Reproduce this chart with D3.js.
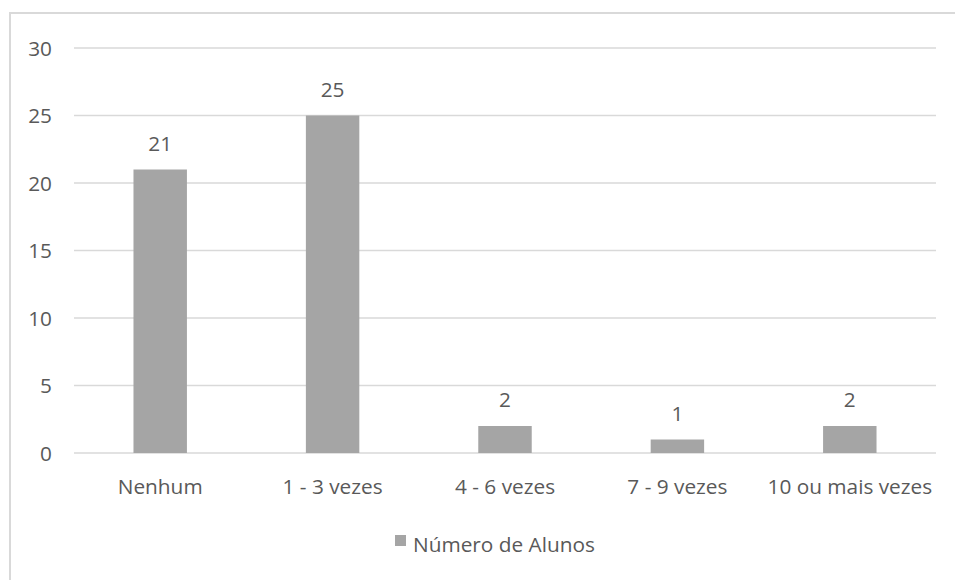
<!DOCTYPE html>
<html><head><meta charset="utf-8">
<script src="https://cdn.jsdelivr.net/npm/d3@7"></script>
<style>
body{margin:0;background:#fff;}
text{font-family:"Open Sans",sans-serif;fill:#595959;}
</style></head>
<body><svg id="c" width="955" height="580"></svg>
<script>
const categories = ["Nenhum","1 - 3 vezes","4 - 6 vezes","7 - 9 vezes","10 ou mais vezes"];
const values = [21,25,2,1,2];
const yTicks = [0,5,10,15,20,25,30];
const seriesName = "Número de Alunos";

const svg = d3.select("#c");
const mLeft = 74, mRight = 936, mTop = 48, mBottom = 453;
const fs = 20.8;

// outer border
svg.append("path").attr("d","M10,600 L10,13 L960,13")
  .attr("fill","none").attr("stroke","#d9d9d9").attr("stroke-width",2);

const y = d3.scaleLinear().domain([0,30]).range([mBottom, mTop]);
const x = d3.scaleBand().domain(categories).range([mLeft, mRight]).padding(0);

// grid
svg.append("g").selectAll("line").data(yTicks).join("line")
  .attr("x1", mLeft).attr("x2", mRight)
  .attr("y1", d=>y(d)).attr("y2", d=>y(d))
  .attr("stroke","#d9d9d9").attr("stroke-width",1.5);

// y axis labels
const ya = svg.append("g").attr("transform",`translate(${mLeft-22},0)`)
  .call(d3.axisLeft(y).tickValues(yTicks).tickSize(0).tickPadding(0));
ya.select(".domain").remove();
ya.selectAll("text").style("font-family",'"Open Sans",sans-serif').style("font-size",fs+"px").attr("fill","#595959").attr("dy","0.35em");

// x axis labels
const xa = svg.append("g").attr("transform",`translate(0,${mBottom})`)
  .call(d3.axisBottom(x).tickSize(0).tickPadding(0));
xa.select(".domain").remove();
xa.selectAll("text").style("font-family",'"Open Sans",sans-serif').style("font-size",fs+"px").attr("fill","#595959").attr("y",41).attr("dy",0);

const bw = x.bandwidth()*0.31;
svg.append("g").selectAll("rect").data(values).join("rect")
  .attr("x",(d,i)=>x(categories[i])+x.bandwidth()/2-bw/2)
  .attr("width",bw)
  .attr("y",d=>y(d)).attr("height",d=>y(0)-y(d))
  .attr("fill","#a5a5a5");

svg.append("g").selectAll("text").data(values).join("text")
  .attr("x",(d,i)=>x(categories[i])+x.bandwidth()/2)
  .attr("y",d=>y(d)-19)
  .attr("text-anchor","middle").style("font-size",fs+"px")
  .text(d=>d);

// legend
const lg = svg.append("g");
lg.append("rect").attr("x",395).attr("y",535).attr("width",11).attr("height",11).attr("fill","#a5a5a5");
lg.append("text").attr("x",413).attr("y",552).style("font-size",fs+"px").text(seriesName);
</script></body></html>
